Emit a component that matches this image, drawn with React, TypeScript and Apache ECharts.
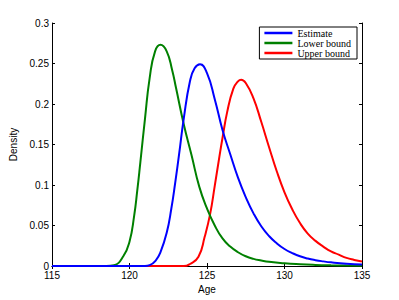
import React, { useEffect, useRef } from "react";
import * as echarts from "echarts";

const xTicks = [115, 120, 125, 130, 135];
const yTicks = [0, 0.05, 0.1, 0.15, 0.2, 0.25, 0.3];
const seriesNames = ["Estimate", "Lower bound", "Upper bound"];

const estimate: [number, number][] = [
  [115, 0], [121, 0], [121.3, 0.001], [121.7, 0.007], [122.0, 0.017], [122.4, 0.041],
  [122.7, 0.071], [122.95, 0.103], [123.2, 0.138], [123.5, 0.182], [123.9, 0.228],
  [124.2, 0.244], [124.55, 0.249], [125.0, 0.238], [125.5, 0.206], [126.0, 0.168],
  [126.5, 0.138], [127.0, 0.109], [127.5, 0.085], [128.0, 0.065], [128.5, 0.049],
  [129.0, 0.037], [129.5, 0.028], [130.0, 0.021], [130.5, 0.016], [131.0, 0.012],
  [131.5, 0.0092], [132.0, 0.0072], [132.5, 0.0057], [133.0, 0.0045], [134.0, 0.0028],
  [135.0, 0.0018],
];

const lowerBound: [number, number][] = [
  [115, 0], [118.5, 0], [119.0, 0.001], [119.6, 0.012], [120.0, 0.03], [120.3, 0.062],
  [120.5, 0.093], [120.7, 0.128], [121.0, 0.182], [121.3, 0.232], [121.65, 0.265],
  [122.0, 0.273], [122.4, 0.265], [122.75, 0.242], [123.0, 0.22], [123.5, 0.175],
  [124.0, 0.137], [124.5, 0.098], [125.0, 0.071], [125.5, 0.05], [126.0, 0.034],
  [126.5, 0.024], [127.0, 0.017], [127.5, 0.012], [128.0, 0.0088], [128.5, 0.0068],
  [129.0, 0.0052], [130.0, 0.0033], [131.0, 0.0021], [132.0, 0.0013], [133.0, 0.0008],
  [134.0, 0.0005], [135.0, 0.0003],
];

const upperBound: [number, number][] = [
  [115, 0], [123.5, 0], [123.9, 0.0025], [124.45, 0.0115], [124.85, 0.036], [125.2, 0.064],
  [125.5, 0.099], [125.8, 0.135], [126.0, 0.158], [126.3, 0.19], [126.7, 0.219],
  [127.0, 0.228], [127.2, 0.23], [127.5, 0.226], [128.0, 0.207], [128.5, 0.178],
  [129.0, 0.147], [129.5, 0.117], [130.0, 0.091], [130.5, 0.07], [131.0, 0.053],
  [131.5, 0.04], [132.0, 0.031], [132.5, 0.024], [133.0, 0.018], [133.5, 0.014],
  [134.0, 0.01], [134.5, 0.0075], [135.0, 0.0055],
];

const colors = ["#0000ff", "#008000", "#ff0000"];

export default function App() {
  const ref = useRef<HTMLDivElement>(null);
  useEffect(() => {
    if (!ref.current) return;
    const chart = echarts.init(ref.current, undefined, { renderer: "svg" });
    const sans = "'Liberation Sans', Arial, sans-serif";
    const serif = "'Liberation Serif', 'Times New Roman', serif";
    const axisLine = { show: true, lineStyle: { color: "#000", width: 1 } };
    const tick = { show: true, inside: true, length: 3, lineStyle: { color: "#000" } };
    chart.setOption({
      animation: false,
      backgroundColor: "#fff",
      grid: { left: 52, right: 37, top: 23, bottom: 34, containLabel: false },
      legend: {
        data: seriesNames,
        orient: "vertical",
        right: 42,
        top: 27,
        icon: "rect",
        itemWidth: 28,
        itemHeight: 2.5,
        itemGap: 0,
        padding: [1, 6, 1, 5],
        backgroundColor: "#fff",
        borderColor: "#000",
        borderWidth: 1,
        textStyle: { fontFamily: serif, fontSize: 10, lineHeight: 8, color: "#000" },
      },
      xAxis: [
        {
          type: "value",
          min: xTicks[0],
          max: xTicks[xTicks.length - 1],
          interval: 5,
          position: "bottom",
          name: "Age",
          nameLocation: "middle",
          nameGap: 13,
          nameTextStyle: { fontFamily: sans, fontSize: 10, color: "#000" },
          axisLine,
          axisTick: tick,
          axisLabel: { margin: 4, fontFamily: sans, fontSize: 10, color: "#000" },
          splitLine: { show: false },
        },
        {
          type: "value",
          min: xTicks[0],
          max: xTicks[xTicks.length - 1],
          interval: 5,
          position: "top",
          axisLine,
          axisTick: tick,
          axisLabel: { show: false },
          splitLine: { show: false },
        },
      ],
      yAxis: [
        {
          type: "value",
          min: yTicks[0],
          max: yTicks[yTicks.length - 1],
          interval: 0.05,
          position: "left",
          name: "Density",
          nameLocation: "middle",
          nameGap: 21,
          nameTextStyle: { fontFamily: sans, fontSize: 10, color: "#000" },
          axisLine,
          axisTick: tick,
          axisLabel: { margin: 3, fontFamily: sans, fontSize: 10, color: "#000" },
          splitLine: { show: false },
        },
        {
          type: "value",
          min: yTicks[0],
          max: yTicks[yTicks.length - 1],
          interval: 0.05,
          position: "right",
          axisLine,
          axisTick: tick,
          axisLabel: { show: false },
          splitLine: { show: false },
        },
      ],
      series: [estimate, lowerBound, upperBound].map((d, i) => ({
        name: seriesNames[i],
        type: "line",
        data: d,
        xAxisIndex: 0,
        yAxisIndex: 0,
        smooth: 0.5,
        showSymbol: false,
        symbol: "none",
        color: colors[i],
        lineStyle: { color: colors[i], width: 2 },
        z: 3 - i,
      })),
    });
    return () => chart.dispose();
  }, []);
  return (
    <div
      ref={ref}
      style={{ position: "fixed", left: 0, top: 0, width: 399, height: 300 }}
    />
  );
}
